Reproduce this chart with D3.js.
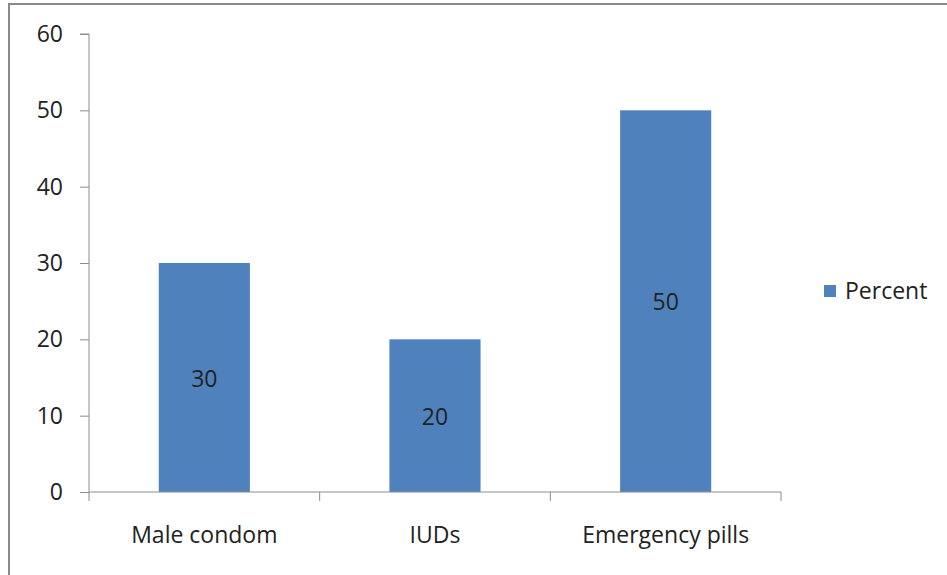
<!DOCTYPE html>
<html><head><meta charset="utf-8">
<script src="https://cdn.jsdelivr.net/npm/d3@7"></script>
<style>body{margin:0;background:#fff}svg{display:block}text{font-family:"Open Sans",sans-serif;fill:#222}</style>
</head><body>
<svg id="c" width="947" height="575"></svg>
<script>
const categories = ["Male condom", "IUDs", "Emergency pills"];
const values = [30, 20, 50];
const yTicks = [0, 10, 20, 30, 40, 50, 60];
const seriesName = "Percent";

(function () {
const fs = "23px";
const svg = d3.select("#c");
svg.append("rect").attr("x", 9).attr("y", 4).attr("width", 960).attr("height", 600)
  .attr("fill", "none").attr("stroke", "#8a8a8a").attr("stroke-width", 2);

const pL = 89, pR = 781, pT = 34, pB = 492;
const x = d3.scaleBand().domain(categories).range([pL, pR]).padding(0);
const y = d3.scaleLinear().domain([0, 60]).range([pB, pT]);
const barFrac = 0.395;

const ya = svg.append("g").attr("transform", `translate(${pL},0)`)
  .call(d3.axisLeft(y).tickValues(yTicks).tickSize(9).tickPadding(17));
ya.select(".domain").attr("stroke", "#8c8c8c").attr("d", `M-9,${pT}H0V${pB}`);
ya.selectAll(".tick line").attr("stroke", "#8c8c8c");
ya.selectAll(".tick text").style("font-size", fs).attr("fill", "#222");

svg.selectAll("rect.bar").data(values).enter().append("rect").attr("class", "bar")
  .attr("x", (d, i) => x(categories[i]) + x.bandwidth() * (1 - barFrac) / 2)
  .attr("width", x.bandwidth() * barFrac)
  .attr("y", d => y(d)).attr("height", d => y(0) - y(d))
  .attr("fill", "#4f81bd");

const xa = svg.append("g").attr("transform", `translate(0,${pB})`)
  .call(d3.axisBottom(x).tickSize(0).tickPadding(35));
xa.select(".domain").attr("stroke", "#8c8c8c").attr("d", `M${pL},0H${pR}`);
xa.selectAll(".tick text").style("font-size", fs).attr("fill", "#222");
const bounds = categories.map(c => x(c)).concat([pR]);
svg.append("g").selectAll("line").data(bounds).enter().append("line")
  .attr("x1", d => d).attr("x2", d => d).attr("y1", pB).attr("y2", pB + 9)
  .attr("stroke", "#8c8c8c");

svg.selectAll("text.lbl").data(values).enter().append("text").attr("class", "lbl")
  .attr("x", (d, i) => x(categories[i]) + x.bandwidth() / 2)
  .attr("y", d => (y(d) + y(0)) / 2 + 1).attr("dy", "0.35em")
  .attr("text-anchor", "middle").style("font-size", fs).text(d => d);

svg.append("rect").attr("x", 824).attr("y", 285).attr("width", 12).attr("height", 12).attr("fill", "#4f81bd");
svg.append("text").attr("x", 845).attr("y", 291).attr("dy", "0.35em").style("font-size", fs).text(seriesName);
})();
</script>
</body></html>
